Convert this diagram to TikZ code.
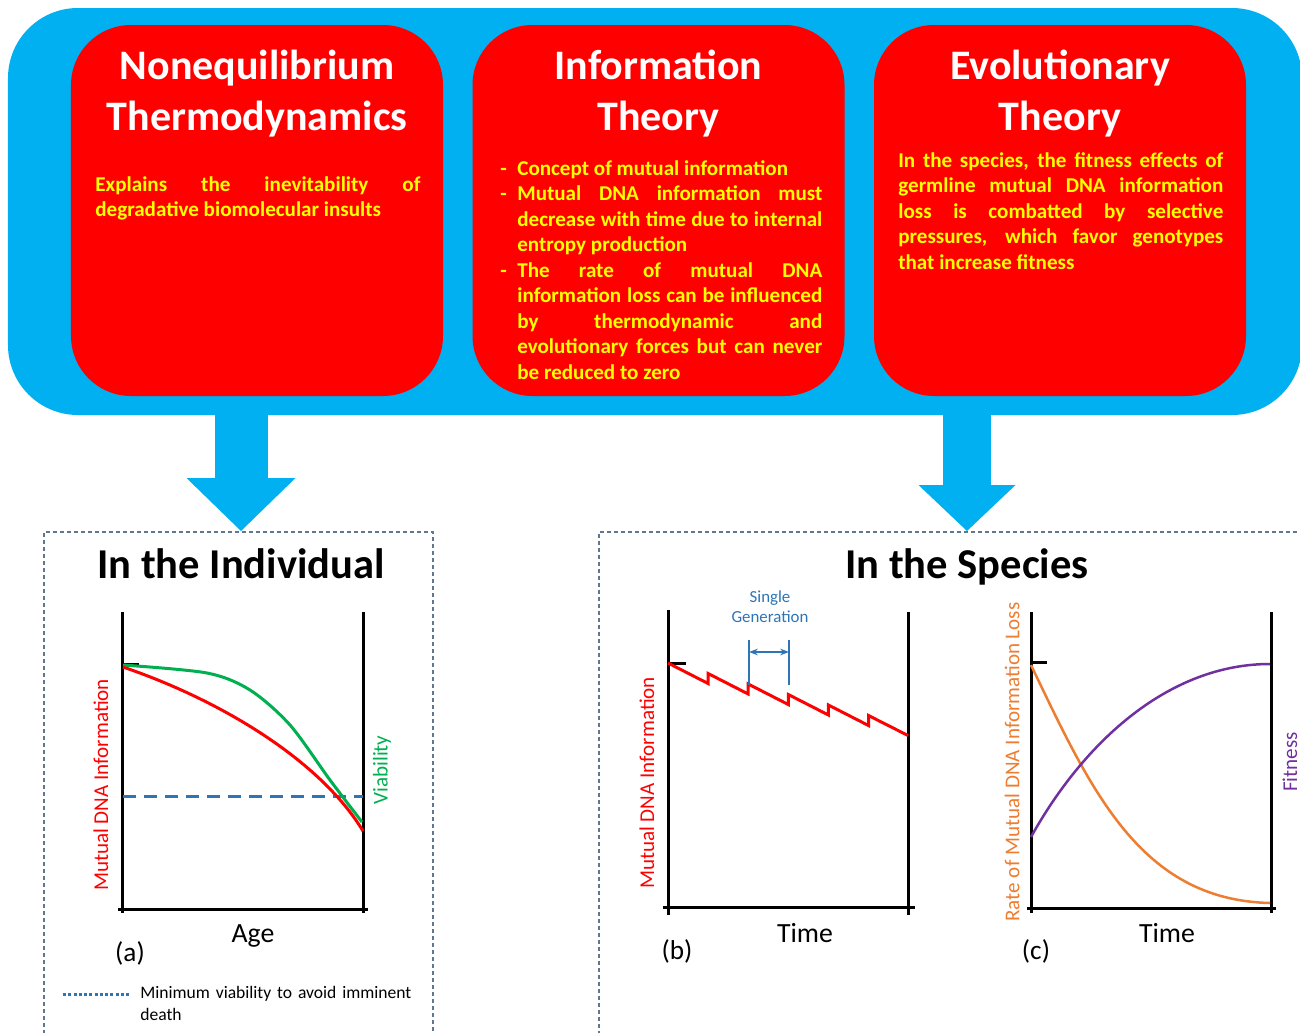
\documentclass[tikz,border=0pt]{standalone}
\usepackage{fontspec}
\setmainfont{Carlito}
\usetikzlibrary{arrows.meta,positioning}

\definecolor{panelblue}{HTML}{00B0F0}
\definecolor{boxred}{HTML}{FF0000}
\definecolor{boxyellow}{HTML}{FFFF00}
\definecolor{viagreen}{HTML}{00B050}
\definecolor{rateorange}{HTML}{ED7D31}
\definecolor{fitpurple}{HTML}{7030A0}
\definecolor{minblue}{HTML}{2E75B6}
\definecolor{framegray}{HTML}{5F7890}

\newcommand{\dashitem}[1]{\hangindent=3.4mm\hangafter=1\noindent\makebox[3.4mm][l]{-}#1\par}

\begin{document}
\begin{tikzpicture}[x=0.2mm, y=-0.2mm,
    panelbox/.style={fill=panelblue, rounded corners=14mm, minimum width=258.8mm, minimum height=81.4mm, inner sep=0},
    theory/.style={fill=boxred, rounded corners=12mm, minimum width=74.4mm, minimum height=74.2mm, inner sep=0},
    head/.style={anchor=north, inner sep=0, align=center, text=white, font=\fontsize{23.9}{28.9}\selectfont\bfseries},
    body/.style={anchor=north west, inner sep=0, text width=65mm, align=justify, text=boxyellow, font=\fontsize{12}{14.5}\selectfont\bfseries},
    sectbox/.style={draw=framegray, dash pattern=on 0.8mm off 0.6mm, line width=0.3mm, anchor=north west, inner sep=0, minimum height=101.8mm},
    secthead/.style={anchor=base, inner sep=0, font=\fontsize{24.2}{28}\selectfont\bfseries},
    bigarrow/.style n args={3}{draw=panelblue, line width=#1, -{Triangle[length=#2, width=#3, line width=0pt]}},
    axisline/.style={line width=0.6mm},
    curve/.style={line width=0.6mm},
    ylab/.style={rotate=90, inner sep=0, font=\fontsize{12}{14}\selectfont},
    xlab/.style={inner sep=0, font=\fontsize{15.8}{18}\selectfont},
    plabel/.style={inner sep=0, font=\fontsize{15.5}{18}\selectfont}
]
\useasboundingbox (0,0) rectangle (1300,1033);

% top panel with the three theories
\node[panelbox] (panel) at (655,211.5) {};
\node[theory] (thermo) at (257,210.5) {};
\node[theory] (info) at (658.5,210.5) {};
\node[theory] (evol) at (1060,210.5) {};

\node[head] (thermohead) at (257,50) {Nonequilibrium\\Thermodynamics};
\node[head] (infohead) at (658.5,50) {Information\\Theory};
\node[head] (evolhead) at (1060,50) {Evolutionary\\Theory};

\node[body] (thermotext) at (95,176) {Explains the inevitability of\linebreak degradative biomolecular insults};
\node[body, text width=64.4mm] (infotext) at (500,160) {%
\dashitem{Concept of mutual information}
\dashitem{Mutual DNA information must\linebreak decrease with time due to internal\linebreak entropy production}
\dashitem{The rate of mutual DNA\linebreak information loss can be influenced\linebreak by thermodynamic and\linebreak evolutionary forces but can never\linebreak be reduced to zero}};
\node[body] (evoltext) at (898,152) {In the species, the fitness effects of\linebreak germline mutual DNA information\linebreak loss is combatted by selective\linebreak pressures, which favor genotypes\linebreak that increase fitness};

% lower frames
\node[sectbox, minimum width=77.8mm] (indiv) at (43,531) {};
\node[sectbox, minimum width=141.4mm] (species) at (598,531) {};
\node[secthead] (indhead) at (241,578) {In the Individual};
\node[secthead] (sphead) at (967,578) {In the Species};

\draw[bigarrow={10.6mm}{10.6mm}{21.8mm}] (panel.south -| indhead) -- (indiv.north -| indhead);
\draw[bigarrow={9.6mm}{9.2mm}{19.4mm}] (panel.south -| sphead) -- (indiv.north -| sphead);

% (a) individual
\draw[axisline] (122,612) -- (122,913);
\draw[axisline] (363,612) -- (363,913);
\draw[axisline] (118,909) -- (368,909);
\draw[axisline] (122,664) -- (139,664);
\draw[curve, minblue, dash pattern=on 2.6mm off 1.6mm] (123,796) -- (363,796);
\draw[curve, viagreen] plot[smooth] coordinates {(123,665) (207,673) (250,690) (290,725) (330,780) (362,822)};
\draw[curve, boxred] (123,667) .. controls (220,700) and (320,760) .. (363,831);
\node[ylab, boxred] (mdnaa) at (101,785) {Mutual DNA Information};
\node[ylab, viagreen] (vialab) at (382,770) {Viability};
\node[xlab] (agelab) at (253,936) {Age};
\node[plabel] (pa) at (130,953) {(a)};
\draw[line width=0.6mm, minblue, dash pattern=on 0.6mm off 0.45mm] (63,994) -- (130,994);
\node[anchor=north west, inner sep=0, text width=57mm, align=left, font=\fontsize{10}{12.5}\selectfont] (legtext) at (140,986) {Minimum viability to avoid imminent death};

% (b) species, single generations
\draw[axisline] (668,610) -- (668,915);
\draw[axisline] (908,612) -- (908,915);
\draw[axisline] (663,907) -- (915,907);
\draw[axisline] (668,663) -- (686,663);
\draw[curve, boxred] (668,663) \foreach \k in {1,...,5} { -- ++(40.1,20.5) -- ++(0,-10) } -- ++(39.5,20);
\coordinate (gen1) at (749,652);
\coordinate (gen2) at (789,652);
\draw[minblue, line width=0.45mm] (749,640) -- (749,685) (789,640) -- (789,685);
\draw[minblue, line width=0.4mm, {Stealth[length=5pt]}-{Stealth[length=5pt]}] (gen1) -- (gen2);
\node[inner sep=0, align=center, text=minblue, font=\fontsize{9.6}{11.3}\selectfont] (genlab) at (770,607) {Single\\Generation};
\node[ylab, boxred] (mdnab) at (647,783) {Mutual DNA Information};
\node[xlab] (timeb) at (805,933) {Time};
\node[plabel] (pb) at (677,951) {(b)};

% (c) species, rate and fitness
\draw[axisline] (1031,612) -- (1031,913);
\draw[axisline] (1271,612) -- (1271,913);
\draw[axisline] (1027,908) -- (1276,908);
\draw[axisline] (1031,662) -- (1047,662);
\draw[curve, rateorange, line width=0.5mm] (1031,665) .. controls (1091,790) and (1140,900) .. (1270,903);
\draw[curve, fitpurple, line width=0.5mm] (1031,837) .. controls (1085,740) and (1170,664) .. (1270,664);
\node[ylab, rateorange] (ratelab) at (1012,762) {Rate of Mutual DNA Information Loss};
\node[ylab, fitpurple] (fitlab) at (1290,762) {Fitness};
\node[xlab] (timec) at (1167,933) {Time};
\node[plabel] (pc) at (1036,951) {(c)};
\end{tikzpicture}
\end{document}
